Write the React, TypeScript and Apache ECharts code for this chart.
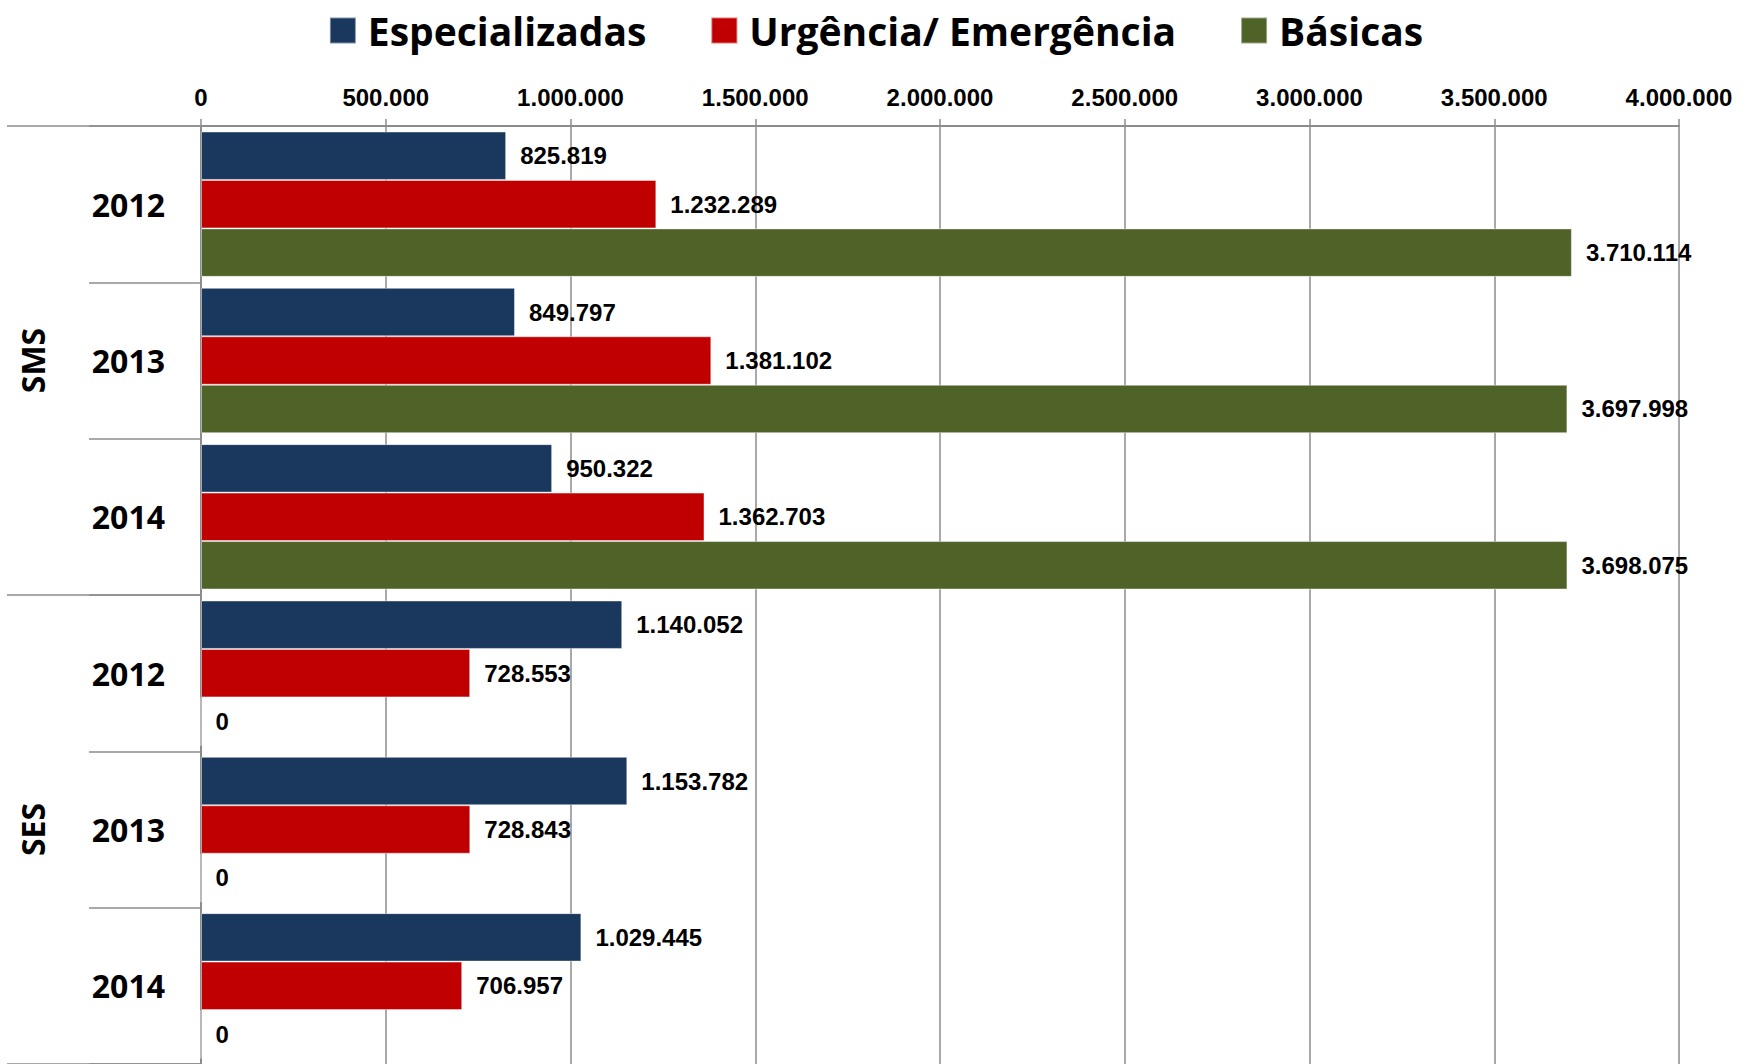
import React, { useEffect, useRef } from "react";
import * as echarts from "echarts";

const groups = ["SMS", "SES"];
const years = ["2012", "2013", "2014"];
const categories = groups.flatMap((g) => years.map((y) => `${g}|${y}`));

const especializadas = [825819, 849797, 950322, 1140052, 1153782, 1029445];
const urgencia = [1232289, 1381102, 1362703, 728553, 728843, 706957];
const basicas = [3710114, 3697998, 3698075, 0, 0, 0];

const seriesNames = ["Especializadas", "Urgência/ Emergência", "Básicas"];
const colors = ["#1a375e", "#c00000", "#4f6228"];

const xMin = 0;
const xMax = 4000000;
const xStep = 500000;

const fmt = (v: number) => String(v).replace(/\B(?=(\d{3})+(?!\d))/g, ".");

const GRID = "#8c8c8c";

export default function App() {
  const ref = useRef<HTMLDivElement>(null);
  useEffect(() => {
    if (!ref.current) return;
    const chart = echarts.init(ref.current, null, { renderer: "svg" });
    const mk = (name: string, data: number[], color: string) => ({
      name,
      type: "bar",
      yAxisIndex: 0,
      data,
      barGap: "0%",
      barCategoryGap: "7%",
      itemStyle: { color, borderColor: "rgba(255,255,255,0.45)", borderWidth: 1 },
      label: {
        show: true,
        position: "right",
        distance: 14,
        formatter: (p: any) => fmt(p.value),
        fontFamily: "Liberation Sans",
        fontWeight: "bold",
        fontSize: 24,
        color: "#000",
      },
    });
    chart.setOption({
      animation: false,
      legend: {
        top: 6,
        left: "center",
        icon: "rect",
        itemWidth: 26,
        itemHeight: 26,
        itemGap: 64,
        data: seriesNames,
        textStyle: {
          fontFamily: "Open Sans",
          fontWeight: "bold",
          fontSize: 39,
          color: "#000",
          padding: [0, 0, 0, 7],
        },
      },
      grid: { left: 201, right: 73, top: 126, height: 942, containLabel: false },
      xAxis: {
        type: "value",
        position: "top",
        min: xMin,
        max: xMax,
        interval: xStep,
        axisLine: { show: true, lineStyle: { color: GRID, width: 2 } },
        axisTick: { show: true, length: 7, lineStyle: { color: GRID, width: 1.5 } },
        splitLine: { show: true, lineStyle: { color: GRID, width: 1.5 } },
        axisLabel: {
          formatter: (v: number) => fmt(v),
          margin: 17,
          fontFamily: "Liberation Sans",
          fontWeight: "bold",
          fontSize: 24,
          color: "#000",
        },
      },
      yAxis: [
        {
          type: "category",
          data: categories,
          inverse: true,
          position: "left",
          axisLine: { show: true, lineStyle: { color: GRID, width: 2 } },
          axisTick: { show: true, length: 112, interval: 0, lineStyle: { color: GRID, width: 1.5 } },
          axisLabel: {
            interval: 0,
            margin: 36,
            padding: [0, 0, 4, 0],
            formatter: (v: string) => v.split("|")[1],
            fontFamily: "Open Sans",
            fontWeight: "bold",
            fontSize: 32,
            color: "#000",
          },
        },
        {
          type: "category",
          data: groups,
          inverse: true,
          position: "left",
          offset: 0,
          axisLine: { show: false },
          axisTick: { show: true, length: 194, interval: 0, lineStyle: { color: GRID, width: 1.5 } },
          axisLabel: {
            interval: 0,
            rotate: 90,
            margin: 153,
            fontFamily: "Open Sans",
            fontWeight: "bold",
            fontSize: 32,
            color: "#000",
          },
        },
      ],
      series: [
        mk(seriesNames[0], especializadas, colors[0]),
        mk(seriesNames[1], urgencia, colors[1]),
        mk(seriesNames[2], basicas, colors[2]),
      ],
    });
    return () => chart.dispose();
  }, []);
  return (
    <div
      ref={ref}
      style={{ position: "fixed", left: 0, top: 0, width: 1752, height: 1064, background: "#fff" }}
    />
  );
}
